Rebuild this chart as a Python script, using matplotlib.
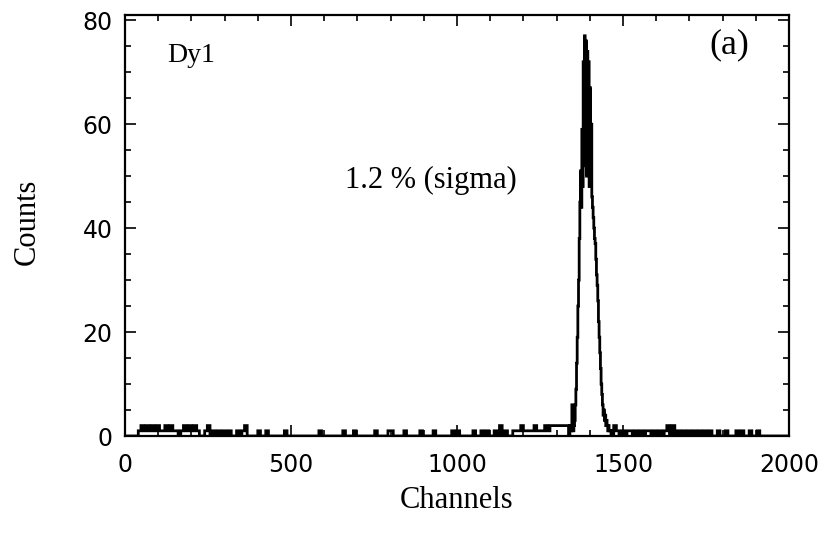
import numpy as np
import matplotlib
matplotlib.use('Agg')
import matplotlib.pyplot as plt
from matplotlib.ticker import MultipleLocator

# spectrum: 2-channel bins; peak read bin by bin, baseline read in 8-channel blocks
peak_start = 1340
peak_counts = [2, 2, 1, 6, 5, 1, 2, 3, 6, 9, 14, 19, 25, 30, 38, 45,
               51, 44, 59, 48, 72, 52, 77, 55, 76, 50, 74, 56, 72, 48, 67, 52,
               60, 46, 44, 42, 40, 38, 37, 34, 31, 29, 26, 22, 19, 16, 13, 10,
               8, 6, 4, 5, 3, 4, 2, 3, 2, 1, 2, 1, 1, 1, 0, 1, 0]

noise_chan = [40, 48, 56, 64, 72, 80, 88, 96, 104, 112, 120, 128, 136, 144,
              152, 168, 176, 184, 192, 200, 208, 216, 240, 248, 264, 280, 296,
              312, 336, 352, 360, 400, 424,
              480, 584, 656, 688, 752, 792, 800, 840, 888, 928, 984, 1000,
              1048, 1072, 1088, 1112, 1128, 1144, 1168, 1176, 1184, 1192, 1200,
              1208, 1216, 1224, 1232, 1240, 1248, 1256, 1264, 1272, 1280, 1288,
              1296, 1304, 1312, 1320, 1328,
              1472, 1480, 1496, 1512, 1520, 1536, 1552, 1568, 1576, 1592, 1608,
              1624, 1632, 1648, 1664, 1680, 1696, 1712, 1728, 1744, 1760, 1784,
              1808, 1840, 1856, 1880, 1904]
noise_cnt = [1, 2, 1, 2, 1, 2, 1, 2, 1, 1, 2, 1, 2, 1,
             1, 1, 2, 1, 2, 1, 2, 1, 1, 2, 1, 1, 1,
             1, 1, 1, 2, 1, 1,
             1, 1, 1, 1, 1, 1, 1, 1, 1, 1, 1, 1,
             1, 1, 1, 1, 2, 1, 1, 1, 1, 2, 1,
             1, 1, 1, 2, 1, 1, 1, 2, 1, 2, 2,
             2, 2, 2, 2, 2,
             2, 1, 1, 1, 1, 1, 1, 1, 1, 1, 1,
             1, 2, 2, 1, 1, 1, 1, 1, 1, 1, 1,
             1, 1, 1, 1, 1]

edges = np.arange(0, 2001, 2)
counts = np.zeros(len(edges) - 1)
for c, n in zip(noise_chan, noise_cnt):
    counts[c // 2:c // 2 + 4] = n
i0 = peak_start // 2
counts[i0:i0 + len(peak_counts)] = peak_counts

serif = 'Liberation Serif'

fig = plt.figure(figsize=(8.34, 5.34), dpi=100)
ax = fig.add_axes([125 / 834, 98 / 534, 664 / 834, 421 / 534])
ax.stairs(counts, edges, color='black', lw=2.0)

ax.set_xlim(0, 2000)
ax.set_ylim(0, 81)
ax.xaxis.set_major_locator(MultipleLocator(500))
ax.xaxis.set_minor_locator(MultipleLocator(100))
ax.yaxis.set_major_locator(MultipleLocator(20))
ax.yaxis.set_minor_locator(MultipleLocator(5))
ax.tick_params(which='both', direction='in', top=True, right=True, width=1.2,
               labelsize=17)
ax.tick_params(which='major', length=8)
ax.tick_params(which='minor', length=4)
ax.tick_params(axis='y', pad=9)
ax.tick_params(axis='x', pad=12)
for s in ax.spines.values():
    s.set_linewidth(1.6)

fig.text(27 / 834, 1 - 222 / 534, 'Counts', rotation=90, ha='center',
         va='center', family=serif, fontsize=22)
fig.text(457 / 834, 1 - 500 / 534, 'Channels', ha='center', va='center',
         family=serif, fontsize=22)

ax.text(0.063, 0.888, 'Dy1', transform=ax.transAxes, family=serif,
        fontsize=20, va='baseline')
ax.text(0.94, 0.929, '(a)', transform=ax.transAxes, family=serif,
        fontsize=26, ha='right', va='center')
ax.text(0.331, 0.59, '1.2 % (sigma)', transform=ax.transAxes, family=serif,
        fontsize=22, va='baseline')

fig.savefig('out.png', dpi=100)
